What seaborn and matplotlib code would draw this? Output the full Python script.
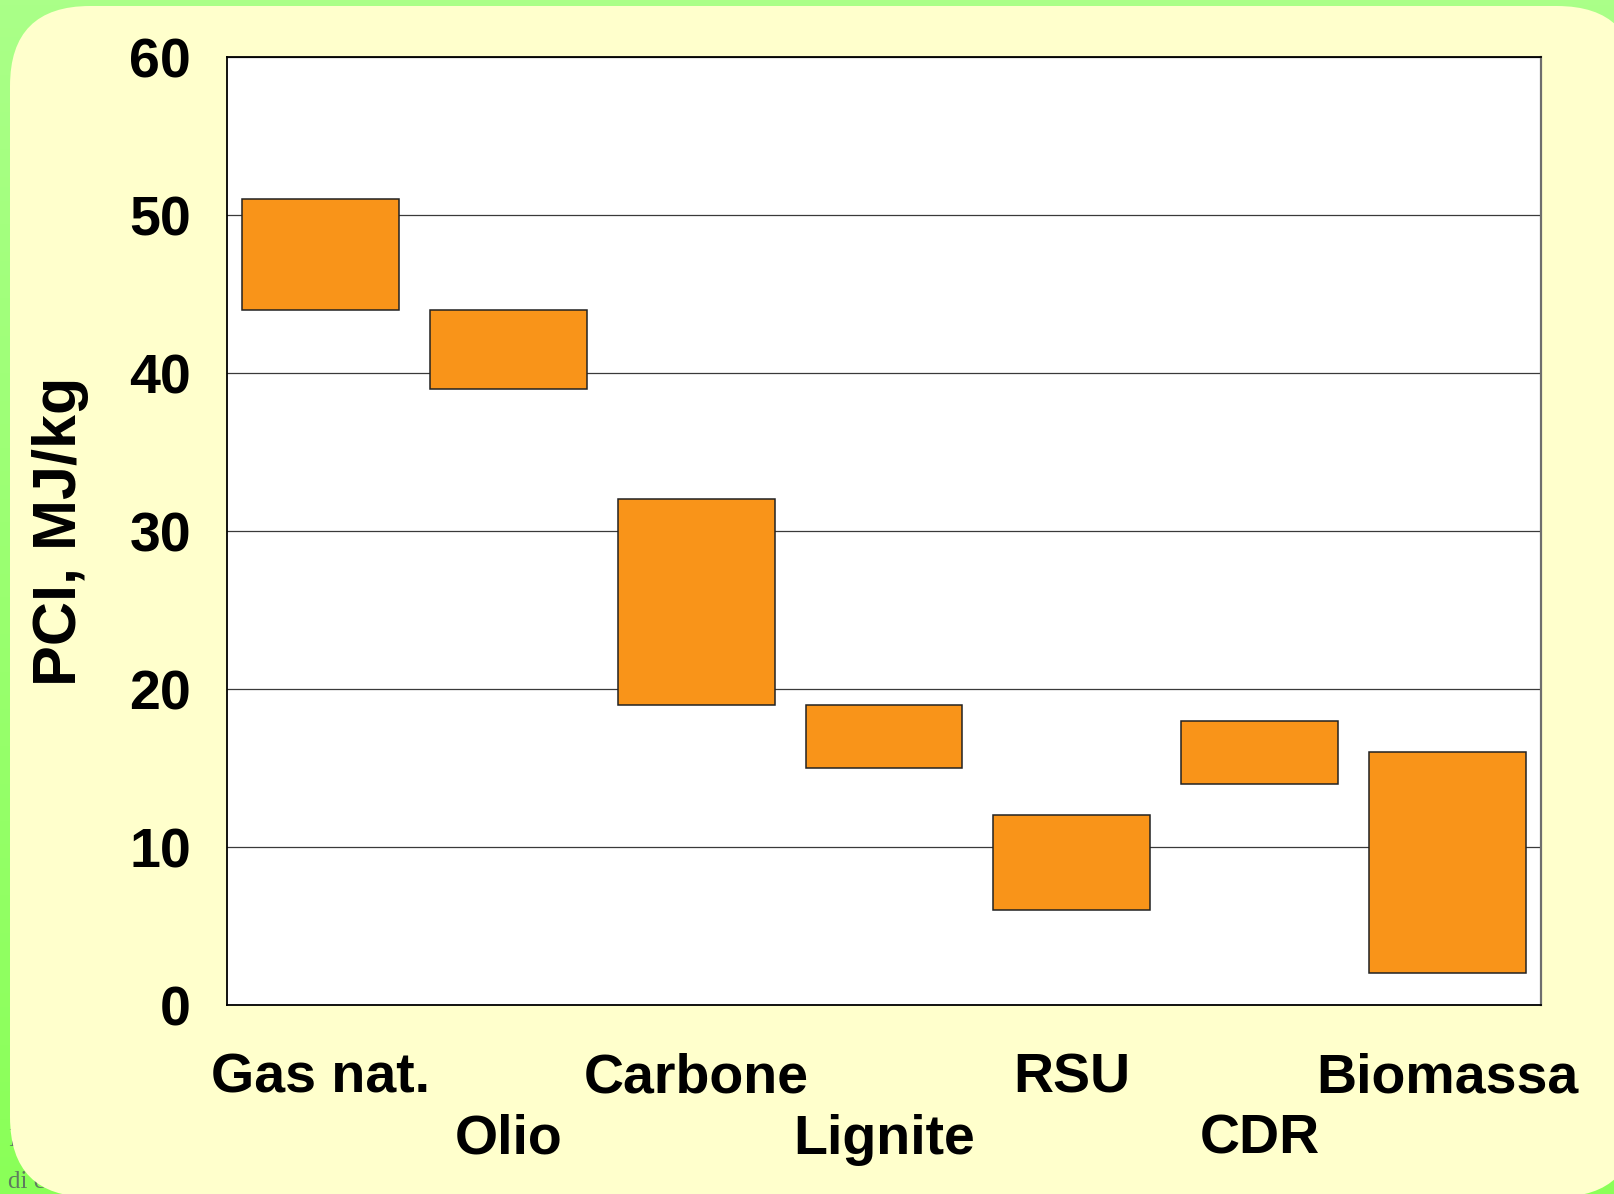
import numpy as np
import pandas as pd
import matplotlib
matplotlib.use("Agg")
import matplotlib.pyplot as plt
from matplotlib.patches import FancyBboxPatch
import seaborn as sns

# Lower heating value ranges (PCI) for common fuels, MJ/kg
fuels = ["Gas nat.", "Olio", "Carbone", "Lignite", "RSU", "CDR", "Biomassa"]
pci_min = [44, 39, 19, 15, 6, 14, 2]
pci_max = [51, 44, 32, 19, 12, 18, 16]
y_ticks = [0, 10, 20, 30, 40, 50, 60]

df = pd.DataFrame({"fuel": fuels, "low": pci_min, "high": pci_max})
df["span"] = df["high"] - df["low"]

sns.set_theme(style="white")
plt.rcParams["font.family"] = ["Liberation Sans", "DejaVu Sans"]
plt.rcParams["text.color"] = "black"
plt.rcParams["axes.labelcolor"] = "black"
plt.rcParams["xtick.color"] = "black"
plt.rcParams["ytick.color"] = "black"

W, H, DPI = 1614, 1194, 100
fig = plt.figure(figsize=(W / DPI, H / DPI), dpi=DPI)

# green slide background with a soft vertical gradient
bg = fig.add_axes([0, 0, 1, 1], zorder=-10)
grad = np.linspace(0, 1, 256)[:, None]
top_c = np.array([170, 255, 136]) / 255
bot_c = np.array([138, 255, 88]) / 255
img = top_c[None, None, :] * (1 - grad[..., None]) + bot_c[None, None, :] * grad[..., None]
bg.imshow(img, aspect="auto", extent=[0, W, H, 0])
bg.set_xlim(0, W)
bg.set_ylim(H, 0)
bg.axis("off")

# fragments of slide text partly covered by the panel
bg.text(8, 1146, "Il", family=["Liberation Serif"], fontsize=18, color="#5f7a5f", zorder=1)
bg.text(8, 1188, "di c", family=["Liberation Serif"], fontsize=18, color="#5f7a5f", zorder=1)

# pale yellow rounded panel
panel = FancyBboxPatch((10, 6), 1627, 1191,
                       boxstyle="round,pad=0,rounding_size=80",
                       facecolor="#FFFFCC", edgecolor="none", zorder=2)
bg.add_patch(panel)

ax_l, ax_r, ax_t, ax_b = 227, 1541, 57, 1005
ax = fig.add_axes([ax_l / W, 1 - ax_b / H, (ax_r - ax_l) / W, (ax_b - ax_t) / H])
ax.set_facecolor("white")

sns.barplot(data=df, x="fuel", y="span", bottom=df["low"].to_numpy(),
            color="#F99419", saturation=1, width=0.835,
            edgecolor="#222222", linewidth=1.1, ax=ax, zorder=3)

ax.set_xlim(-0.5, len(fuels) - 0.5)
ax.set_ylim(0, 60)
ax.set_yticks(y_ticks)
ax.set_yticklabels([str(v) for v in y_ticks], fontsize=40, fontweight="bold", color="black")

labels = [f if i % 2 == 0 else "\n" + f for i, f in enumerate(fuels)]
ax.set_xticks(range(len(fuels)))
ax.set_xticklabels(labels, fontsize=40, fontweight="bold", color="black")
for lab in ax.get_xticklabels():
    lab.set_linespacing(1.24)

ax.tick_params(axis="x", length=0, pad=34)
ax.tick_params(axis="y", length=0, pad=26)

ax.yaxis.grid(True, color="#3a3a3a", linewidth=0.9, zorder=0)
ax.xaxis.grid(False)
ax.set_axisbelow(True)

for side in ["left", "top", "bottom"]:
    ax.spines[side].set_color("black")
    ax.spines[side].set_linewidth(1.3)
ax.spines["right"].set_color("#6e6e6e")
ax.spines["right"].set_linewidth(1.6)

ax.set_xlabel("")
ax.set_ylabel("PCI, MJ/kg", fontsize=44, fontweight="bold", color="black")
ax.yaxis.set_label_coords(-0.105, 0.5)

fig.savefig("out.png", dpi=DPI)
